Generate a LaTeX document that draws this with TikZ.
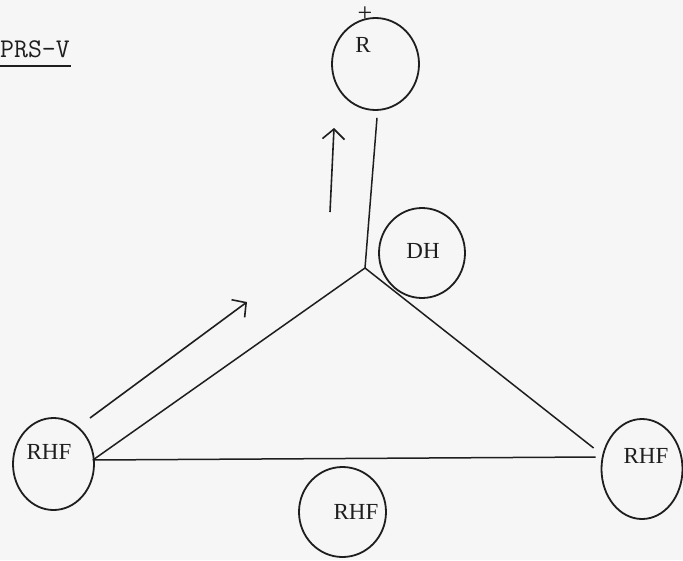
\documentclass[tikz,border=0pt]{standalone}
\usepackage{fontspec}
\setmainfont{Liberation Serif}
\usetikzlibrary{shapes.geometric,arrows.meta,calc}
\definecolor{ink}{HTML}{1E1E1E}
\definecolor{paper}{HTML}{F6F6F6}
\begin{document}
\begin{tikzpicture}[x=1pt,y=-1pt,
  ring/.style={draw=ink, line width=1.8pt, ellipse, inner sep=0pt},
  lbl/.style={font=\fontsize{23}{23}\selectfont, text=ink, inner sep=0pt},
  edge/.style={draw=ink, line width=1.5pt},
  arr/.style={draw=ink, line width=1.6pt, -{Straight Barb[length=10pt,width=22pt]}}]
\fill[paper] (0,0) rectangle (683,560);
\useasboundingbox (0,0) rectangle (683,560);

% title
\node[font=\ttfamily\fontsize{27}{27}\selectfont, text=ink, anchor=base west, inner sep=0pt] (title) at (0,57) {PRS-V};
\draw[ink, line width=2.2pt] ($(title.base west)+(0,9)$) -- ($(title.base east)+(1,9)$);

% circles
\node[ring, minimum width=87pt, minimum height=92pt] (R) at (375.5,64) {};
\node[lbl] (Rl) at (363,45) {R};
\node[font=\fontsize{26}{26}\selectfont, text=ink, inner sep=0pt] (plus) at (365,14) {+};

\node[ring, minimum width=86pt, minimum height=90pt] (DH) at (422,253) {};
\node[lbl] (DHl) at (423,251) {DH};

\node[ring, minimum width=81pt, minimum height=92pt] (L) at (53.5,464) {};
\node[lbl] (Ll) at (49,452) {RHF};

\node[ring, minimum width=81pt, minimum height=100pt] (Rt) at (642,469) {};
\node[lbl] (Rtl) at (646,456) {RHF};

\node[ring, minimum width=87pt, minimum height=90pt] (B) at (342.5,512) {};
\node[lbl] (Bl) at (356,512) {RHF};

% junction
\coordinate (v) at (365,268);

% connectors
\draw[edge] ($(R.south)+(1.5,7)$) -- (v);
\draw[edge] ($(L.east)+(-2,-4)$) -- (v);
\draw[edge] (v) -- ($(Rt.west)+(-7,-21)$);
\draw[edge] ($(L.east)+(-2,-4)$) -- ($(Rt.west)+(-5,-12)$);

% free arrows
\coordinate (u1) at (330,212);
\coordinate (u2) at (334,128);
\draw[arr] (u1) -- (u2);
\coordinate (d1) at (90,418);
\coordinate (d2) at (247,302);
\draw[arr] (d1) -- (d2);
\end{tikzpicture}
\end{document}
